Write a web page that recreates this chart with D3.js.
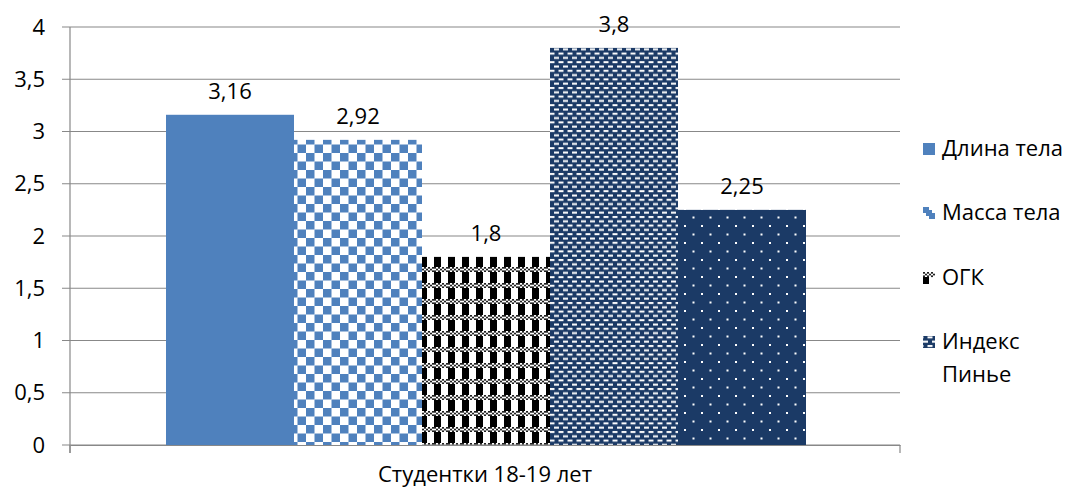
<!DOCTYPE html>
<html><head><meta charset="utf-8">
<script src="https://cdn.jsdelivr.net/npm/d3@7"></script>
<style>body{margin:0;background:#fff}svg{display:block;font-family:"Open Sans","Noto Sans",sans-serif}</style>
</head><body><svg id="c" width="1072" height="490"></svg>
<script>
const categories = ["Студентки 18-19 лет"];
const seriesNames = ["Длина тела", "Масса тела", "ОГК", "Индекс Пинье", "Индекс Пинье 2"];
const legendNames = ["Длина тела", "Масса тела", "ОГК", "Индекс Пинье"];
const values = [3.16, 2.92, 1.8, 3.8, 2.25];
const valueLabels = ["3,16", "2,92", "1,8", "3,8", "2,25"];
const yTicks = [0, 0.5, 1, 1.5, 2, 2.5, 3, 3.5, 4];
const yTickLabels = ["0", "0,5", "1", "1,5", "2", "2,5", "3", "3,5", "4"];

const svg = d3.select("#c");
const mLeft = 70, mRight = 900, mTop = 27, mBottom = 445;
const navy = "#1b3a66", blue = "#4f81bd";
const FS = 22;

const defs = svg.append("defs");
let p = defs.append("pattern").attr("id","p2").attr("patternUnits","userSpaceOnUse").attr("width",17).attr("height",17);
p.append("rect").attr("width",17).attr("height",17).attr("fill","#fff");
p.append("rect").attr("width",8.5).attr("height",8.5).attr("fill",blue);
p.append("rect").attr("x",8.5).attr("y",8.5).attr("width",8.5).attr("height",8.5).attr("fill",blue);
p = defs.append("pattern").attr("id","p3").attr("patternUnits","userSpaceOnUse").attr("width",14).attr("height",16);
p.append("rect").attr("width",14).attr("height",16).attr("fill","#fff");
p.append("rect").attr("x",0).attr("y",0).attr("width",7).attr("height",11).attr("fill","#000");
for (let i=0;i<7;i++) for (let j=0;j<3;j++) if ((i+j)%2===0)
  p.append("rect").attr("x",i*2).attr("y",11+j*1.7).attr("width",2).attr("height",1.7).attr("fill","#222");
p = defs.append("pattern").attr("id","p4").attr("patternUnits","userSpaceOnUse").attr("width",9).attr("height",8.6);
p.append("rect").attr("width",9).attr("height",8.6).attr("fill",navy);
p.append("rect").attr("x",0.5).attr("y",1).attr("width",5).attr("height",2).attr("fill","#fff");
p.append("rect").attr("x",5).attr("y",5.3).attr("width",5).attr("height",2).attr("fill","#fff");
p.append("rect").attr("x",-4).attr("y",5.3).attr("width",5).attr("height",2).attr("fill","#fff");
p = defs.append("pattern").attr("id","p5").attr("patternUnits","userSpaceOnUse").attr("width",17).attr("height",17);
p.append("rect").attr("width",17).attr("height",17).attr("fill",navy);
p.append("rect").attr("x",4).attr("y",4).attr("width",2).attr("height",2).attr("fill","#fff");
p.append("rect").attr("x",12.5).attr("y",12.5).attr("width",2).attr("height",2).attr("fill","#fff");
const fills = [blue, "url(#p2)", "url(#p3)", "url(#p4)", "url(#p5)"];
p = defs.append("pattern").attr("id","l2").attr("patternUnits","objectBoundingBox").attr("width",1).attr("height",1);
p.append("rect").attr("width",12).attr("height",12).attr("fill",blue);
p.append("rect").attr("x",6).attr("y",0).attr("width",6).attr("height",6).attr("fill","#fff");
p.append("rect").attr("x",0).attr("y",6).attr("width",6).attr("height",6).attr("fill","#fff");
p.append("rect").attr("x",3).attr("y",3).attr("width",6).attr("height",6).attr("fill",blue);
p = defs.append("pattern").attr("id","l3").attr("patternUnits","objectBoundingBox").attr("width",1).attr("height",1);
p.append("rect").attr("width",12).attr("height",12).attr("fill","#fff");
p.append("rect").attr("x",0).attr("y",5).attr("width",6).attr("height",7).attr("fill","#000");
for (let i=0;i<6;i++) for (let j=0;j<3;j++) if ((i+j)%2===0)
  p.append("rect").attr("x",i*2).attr("y",j*1.7).attr("width",2).attr("height",1.7).attr("fill","#222");
const legendFills = [blue, "url(#l2)", "url(#l3)", "url(#p4)"];

const x0 = d3.scaleBand().domain(categories).range([mLeft, mRight]).paddingInner(0).paddingOuter(0);
const x1 = d3.scaleBand().domain(seriesNames).range([x0(categories[0]) + 96, x0(categories[0]) + x0.bandwidth() - 94]).padding(0);
const y = d3.scaleLinear().domain([0, 4]).range([mBottom, mTop]);

svg.append("g").selectAll("line").data(yTicks).join("line")
  .attr("x1", mLeft - 8).attr("x2", mRight).attr("y1", d => y(d)).attr("y2", d => y(d))
  .attr("stroke", "#888").attr("stroke-width", 1.2);
const yAxis = d3.axisLeft(y).tickValues(yTicks).tickFormat((d,i) => yTickLabels[i]).tickSize(0).tickPadding(25);
const yg = svg.append("g").attr("transform", `translate(${mLeft},0)`).call(yAxis);
yg.select(".domain").remove();
yg.selectAll("text").attr("font-size", FS).attr("fill", "#000").attr("font-family", "Open Sans");
svg.append("line").attr("x1", mLeft).attr("x2", mLeft).attr("y1", mTop).attr("y2", mBottom + 8).attr("stroke", "#888").attr("stroke-width", 1.2);

const g = svg.append("g");
g.selectAll("rect").data(values).join("rect")
  .attr("x", (d,i) => x1(seriesNames[i])).attr("width", x1.bandwidth())
  .attr("y", d => y(d)).attr("height", d => mBottom - y(d))
  .attr("fill", (d,i) => fills[i]);
g.selectAll("text").data(values).join("text")
  .attr("x", (d,i) => x1(seriesNames[i]) + x1.bandwidth()/2).attr("y", d => y(d) - 16)
  .attr("text-anchor", "middle").attr("font-size", FS).attr("fill", "#000")
  .text((d,i) => valueLabels[i]);

const xAxis = d3.axisBottom(x0).tickSize(0).tickPadding(21);
const xg = svg.append("g").attr("transform", `translate(0,${mBottom})`).call(xAxis);
xg.select(".domain").attr("stroke", "#888").attr("stroke-width", 1.2);
xg.selectAll("text").attr("font-size", FS).attr("fill", "#000").attr("font-family", "Open Sans");
[mLeft, mRight].forEach(xx => svg.append("line").attr("x1", xx).attr("x2", xx).attr("y1", mBottom).attr("y2", mBottom + 8).attr("stroke", "#888").attr("stroke-width", 1.2));

const legY = [149, 213, 278, 342];
const lg = svg.append("g");
legendNames.forEach((n, i) => {
  lg.append("rect").attr("x", 923).attr("y", legY[i] - 6).attr("width", 12).attr("height", 12).attr("fill", legendFills[i]);
  const t = lg.append("text").attr("x", 942).attr("y", legY[i] + 7).attr("font-size", FS).attr("fill", "#000");
  if (n === "Индекс Пинье") {
    t.append("tspan").attr("x", 942).text("Индекс");
    t.append("tspan").attr("x", 942).attr("dy", 33).text("Пинье");
  } else t.text(n);
});
</script></body></html>
